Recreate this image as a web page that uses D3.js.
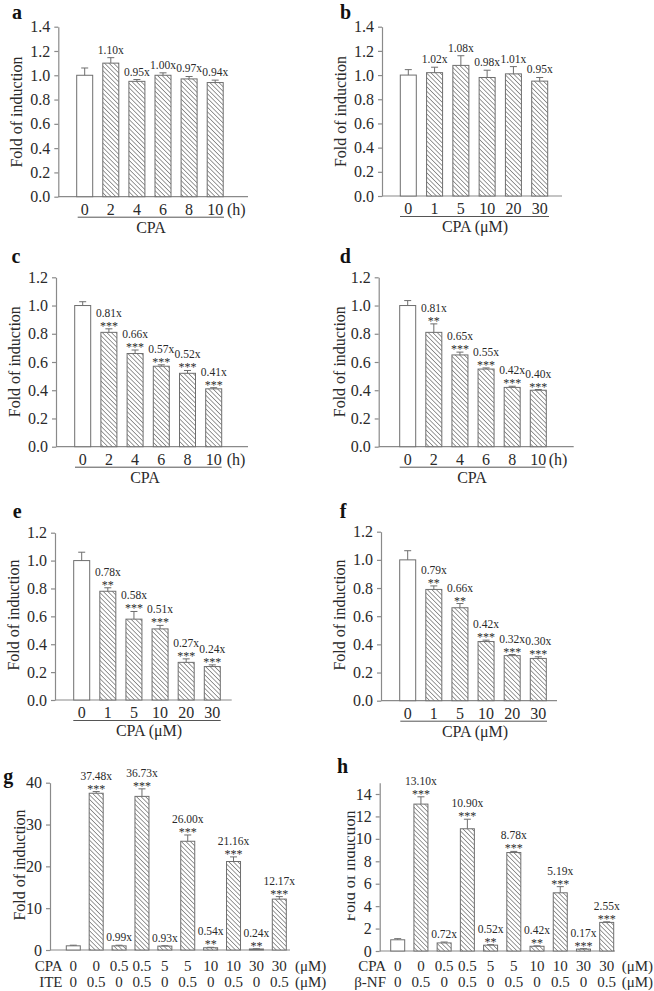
<!DOCTYPE html>
<html>
<head>
<meta charset="utf-8">
<script src="https://cdn.jsdelivr.net/npm/d3@7"></script>
<style>
  html, body { margin: 0; padding: 0; background: #fff; }
  svg { display: block; }
</style>
</head>
<body>
<div id="chart"></div>
<script>
// ---------------- DATA ----------------
const hoursCats = ["0", "2", "4", "6", "8", "10"];
const doseCats = ["0", "1", "5", "10", "20", "30"];

const aValues = [1.00, 1.10, 0.95, 1.00, 0.97, 0.94];
const aErrors = [0.06, 0.045, 0.015, 0.02, 0.02, 0.02];
const aSig = ["", "", "", "", "", ""];

const bValues = [1.00, 1.02, 1.08, 0.98, 1.01, 0.95];
const bErrors = [0.045, 0.045, 0.08, 0.06, 0.06, 0.03];
const bSig = ["", "", "", "", "", ""];

const cValues = [1.00, 0.81, 0.66, 0.57, 0.52, 0.41];
const cErrors = [0.027, 0.025, 0.025, 0.01, 0.02, 0.008];
const cSig = ["", "***", "***", "***", "***", "***"];

const dValues = [1.00, 0.81, 0.65, 0.55, 0.42, 0.40];
const dErrors = [0.035, 0.06, 0.02, 0.008, 0.008, 0.005];
const dSig = ["", "**", "***", "***", "***", "***"];

const eValues = [1.00, 0.78, 0.58, 0.51, 0.27, 0.24];
const eErrors = [0.06, 0.025, 0.055, 0.025, 0.025, 0.012];
const eSig = ["", "**", "***", "***", "***", "***"];

const fValues = [1.00, 0.79, 0.66, 0.42, 0.32, 0.30];
const fErrors = [0.065, 0.025, 0.03, 0.01, 0.008, 0.012];
const fSig = ["", "**", "**", "***", "***", "***"];

const comboCPA = ["0", "0", "0.5", "0.5", "5", "5", "10", "10", "30", "30"];
const comboLigand = ["0", "0.5", "0", "0.5", "0", "0.5", "0", "0.5", "0", "0.5"];

const gValues = [1.00, 37.48, 0.99, 36.73, 0.93, 26.00, 0.54, 21.16, 0.24, 12.17];
const gErrors = [0.15, 0.4, 0.15, 1.8, 0.1, 1.5, 0.1, 1.1, 0.05, 0.6];
const gSig = ["", "***", "", "***", "", "***", "**", "***", "**", "***"];

const hValues = [1.00, 13.10, 0.72, 10.90, 0.52, 8.78, 0.42, 5.19, 0.17, 2.55];
const hErrors = [0.1, 0.65, 0.08, 0.85, 0.05, 0.1, 0.04, 0.55, 0.04, 0.05];
const hSig = ["", "***", "", "***", "**", "***", "**", "***", "***", "***"];

const ticks14 = [0, 0.2, 0.4, 0.6, 0.8, 1.0, 1.2, 1.4];
const ticks12 = [0, 0.2, 0.4, 0.6, 0.8, 1.0, 1.2];
const ticksG = [0, 10, 20, 30, 40];
const ticksH = [0, 2, 4, 6, 8, 10, 12, 14];

// ---------------- DRAW ----------------
const W = 654, H = 991;
const FONT = "'Liberation Serif','Times New Roman',Times,serif";
const TXT = "#2a2a2a";
const AXC = "#8a8a8a";
const BARC = "#6e6e6e";

const svg = d3.select("#chart").append("svg")
  .attr("width", W).attr("height", H)
  .style("font-family", FONT);

const defs = svg.append("defs");
const pat = defs.append("pattern")
  .attr("id", "hatch")
  .attr("patternUnits", "userSpaceOnUse")
  .attr("width", 3.2).attr("height", 3.2)
  .attr("patternTransform", "rotate(-45)");
pat.append("rect").attr("width", 3.2).attr("height", 3.2).attr("fill", "#fff");
pat.append("line").attr("x1", 0).attr("y1", 0).attr("x2", 0).attr("y2", 3.2)
  .attr("stroke", "#5a5a5a").attr("stroke-width", 1.2);

defs.append("clipPath").attr("id", "clipH")
  .append("rect").attr("x", 347.5).attr("y", 700).attr("width", 300).attr("height", 291);

function drawPanel(cfg) {
  const g = svg.append("g");
  const n = cfg.values.length;
  const y = d3.scaleLinear().domain([0, cfg.yMax]).range([cfg.y0, cfg.yTop]);
  const x = d3.scalePoint().domain(d3.range(n)).range([cfg.c0, cfg.c1]);

  // y axis
  const axis = d3.axisLeft(y).tickValues(cfg.ticks).tickFormat(cfg.fmt)
    .tickSize(4).tickPadding(4).tickSizeOuter(0);
  const ag = g.append("g").attr("transform", `translate(${cfg.ax},0)`).call(axis);
  ag.select(".domain").attr("stroke", AXC).attr("stroke-width", 1.2);
  ag.selectAll(".tick line").attr("stroke", AXC).attr("stroke-width", 1.2);
  ag.selectAll(".tick text").attr("fill", TXT).style("font-size", "16px")
    .style("font-family", FONT);

  // x axis line
  g.append("line").attr("x1", cfg.ax).attr("x2", cfg.xEnd)
    .attr("y1", y(0)).attr("y2", y(0))
    .attr("stroke", AXC).attr("stroke-width", 1.2);

  // bars
  const bw = cfg.bw;
  g.selectAll("rect.bar").data(cfg.values).join("rect")
    .attr("class", "bar")
    .attr("x", (d, i) => x(i) - bw / 2)
    .attr("y", d => y(d))
    .attr("width", bw)
    .attr("height", d => y(0) - y(d))
    .attr("fill", (d, i) => i === 0 ? "#fff" : "url(#hatch)")
    .attr("stroke", BARC).attr("stroke-width", 1);

  // error bars and annotations
  cfg.values.forEach((v, i) => {
    const top = y(v + cfg.errors[i]);
    g.append("line").attr("x1", x(i)).attr("x2", x(i))
      .attr("y1", y(v)).attr("y2", top)
      .attr("stroke", BARC).attr("stroke-width", 1);
    g.append("line").attr("x1", x(i) - 3.5).attr("x2", x(i) + 3.5)
      .attr("y1", top).attr("y2", top)
      .attr("stroke", BARC).attr("stroke-width", 1);
    if (i === 0) return;
    const sig = cfg.sig[i];
    if (sig) {
      g.append("text").attr("x", x(i)).attr("y", top + 1)
        .attr("text-anchor", "middle").attr("fill", TXT)
        .style("font-size", "12px").text(sig);
    }
    g.append("text").attr("x", x(i)).attr("y", sig ? top - 12 : top - 4)
      .attr("text-anchor", "middle").attr("fill", TXT)
      .style("font-size", "11.5px").text(v.toFixed(2) + "x");
  });

  // y label (optionally clipped)
  const holder = g.append("g");
  if (cfg.clip) holder.attr("clip-path", "url(#clipH)");
  holder.append("text")
    .attr("transform", `translate(${cfg.ylx},${cfg.yly}) rotate(-90)`)
    .attr("text-anchor", "middle").attr("fill", TXT)
    .style("font-size", "16px").text("Fold of induction");

  // panel letter
  g.append("text").attr("x", cfg.lx).attr("y", cfg.ly)
    .attr("fill", "#111").style("font-size", "20px").style("font-weight", "bold")
    .text(cfg.letter);

  return { g, x, y };
}

function bottomSimple(p, cfg) {
  const { g, x, y } = p;
  const base = y(0);
  g.selectAll("text.xcat").data(cfg.cats).join("text")
    .attr("class", "xcat")
    .attr("x", (d, i) => x(i)).attr("y", base + 18)
    .attr("text-anchor", "middle").attr("fill", TXT)
    .style("font-size", "16px").text(d => d);
  if (cfg.unit) {
    g.append("text").attr("x", cfg.unitX).attr("y", base + 18)
      .attr("fill", TXT).style("font-size", "16px").text(cfg.unit);
  }
  g.append("line").attr("x1", cfg.ul0).attr("x2", cfg.ul1)
    .attr("y1", base + 20.5).attr("y2", base + 20.5)
    .attr("stroke", "#555").attr("stroke-width", 1);
  g.append("text").attr("x", cfg.titleX).attr("y", base + 36)
    .attr("text-anchor", "middle").attr("fill", TXT)
    .style("font-size", "16px").text(cfg.title);
}

function bottomCombo(p, cfg) {
  const { g, x } = p;
  const rows = [
    { name: "CPA", vals: comboCPA, yb: cfg.row1 },
    { name: cfg.ligand, vals: comboLigand, yb: cfg.row2 }
  ];
  rows.forEach(r => {
    g.append("text").attr("x", cfg.hdrX).attr("y", r.yb)
      .attr("text-anchor", "end").attr("fill", TXT)
      .style("font-size", "15px").text(r.name);
    g.selectAll(null).data(r.vals).join("text")
      .attr("x", (d, i) => x(i)).attr("y", r.yb)
      .attr("text-anchor", "middle").attr("fill", TXT)
      .style("font-size", "15px").text(d => d);
    g.append("text").attr("x", cfg.unitX).attr("y", r.yb)
      .attr("fill", TXT).style("font-size", "15px").text("(μM)");
  });
}

const f1 = d3.format(".1f");
const f0 = d3.format("d");

// a
const pa = drawPanel({ letter: "a", lx: 12, ly: 18.5, values: aValues, errors: aErrors, sig: aSig,
  yMax: 1.4, yTop: 26.7, y0: 196.7, ticks: ticks14, fmt: f1, ax: 58.3, xEnd: 248,
  c0: 84.7, c1: 215.2, bw: 16, ylx: 21.5, yly: 112 });
bottomSimple(pa, { cats: hoursCats, unit: "(h)", unitX: 227, ul0: 77.7, ul1: 224, title: "CPA", titleX: 151 });

// b
const pb = drawPanel({ letter: "b", lx: 340, ly: 18.5, values: bValues, errors: bErrors, sig: bSig,
  yMax: 1.4, yTop: 26.7, y0: 196, ticks: ticks14, fmt: f1, ax: 382, xEnd: 562,
  c0: 408.3, c1: 539.7, bw: 16, ylx: 346, yly: 111.5 });
bottomSimple(pb, { cats: doseCats, unit: null, ul0: 400, ul1: 549, title: "CPA (μM)", titleX: 475 });

// c
const pc = drawPanel({ letter: "c", lx: 11.5, ly: 262.7, values: cValues, errors: cErrors, sig: cSig,
  yMax: 1.2, yTop: 277.3, y0: 446.7, ticks: ticks12, fmt: f1, ax: 56, xEnd: 248,
  c0: 82.7, c1: 213.7, bw: 16, ylx: 19.5, yly: 361.7 });
bottomSimple(pc, { cats: hoursCats, unit: "(h)", unitX: 226.7, ul0: 75, ul1: 221.7, title: "CPA", titleX: 145 });

// d
const pd = drawPanel({ letter: "d", lx: 339.7, ly: 263.3, values: dValues, errors: dErrors, sig: dSig,
  yMax: 1.2, yTop: 277.3, y0: 446.7, ticks: ticks12, fmt: f1, ax: 378.7, xEnd: 573.7,
  c0: 407.7, c1: 538.3, bw: 16, ylx: 345.3, yly: 361.7 });
bottomSimple(pd, { cats: hoursCats, unit: "(h)", unitX: 548.7, ul0: 399.7, ul1: 545.3, title: "CPA", titleX: 472 });

// e
const pe = drawPanel({ letter: "e", lx: 12.7, ly: 518.3, values: eValues, errors: eErrors, sig: eSig,
  yMax: 1.2, yTop: 532.7, y0: 700, ticks: ticks12, fmt: f1, ax: 55, xEnd: 231.7,
  c0: 81.7, c1: 212.3, bw: 16, ylx: 19.3, yly: 615 });
bottomSimple(pe, { cats: doseCats, unit: null, ul0: 73.3, ul1: 220.7, title: "CPA (μM)", titleX: 149 });

// f
const pf = drawPanel({ letter: "f", lx: 339.7, ly: 518.3, values: fValues, errors: fErrors, sig: fSig,
  yMax: 1.2, yTop: 531.7, y0: 700.7, ticks: ticks12, fmt: f1, ax: 381, xEnd: 557,
  c0: 407.7, c1: 538.3, bw: 16, ylx: 345.3, yly: 615 });
bottomSimple(pf, { cats: doseCats, unit: null, ul0: 400.3, ul1: 547, title: "CPA (μM)", titleX: 475 });

// g
const pg = drawPanel({ letter: "g", lx: 3.3, ly: 783.3, values: gValues, errors: gErrors, sig: gSig,
  yMax: 40, yTop: 782.7, y0: 950, ticks: ticksG, fmt: f0, ax: 50, xEnd: 290,
  c0: 73.3, c1: 279.3, bw: 14, ylx: 25, yly: 865 });
bottomCombo(pg, { ligand: "ITE", row1: 971, row2: 987, hdrX: 62.5, unitX: 295 });

// h
const ph = drawPanel({ letter: "h", lx: 337, ly: 772.7, values: hValues, errors: hErrors, sig: hSig,
  yMax: 15, yTop: 951 - 15 * (157 / 14), y0: 951, ticks: ticksH, fmt: f0, ax: 379.7, xEnd: 615,
  c0: 397.7, c1: 606.7, bw: 14, ylx: 355, yly: 866, clip: true });
bottomCombo(ph, { ligand: "β-NF", row1: 971, row2: 987, hdrX: 386, unitX: 621.7 });
</script>
</body>
</html>
